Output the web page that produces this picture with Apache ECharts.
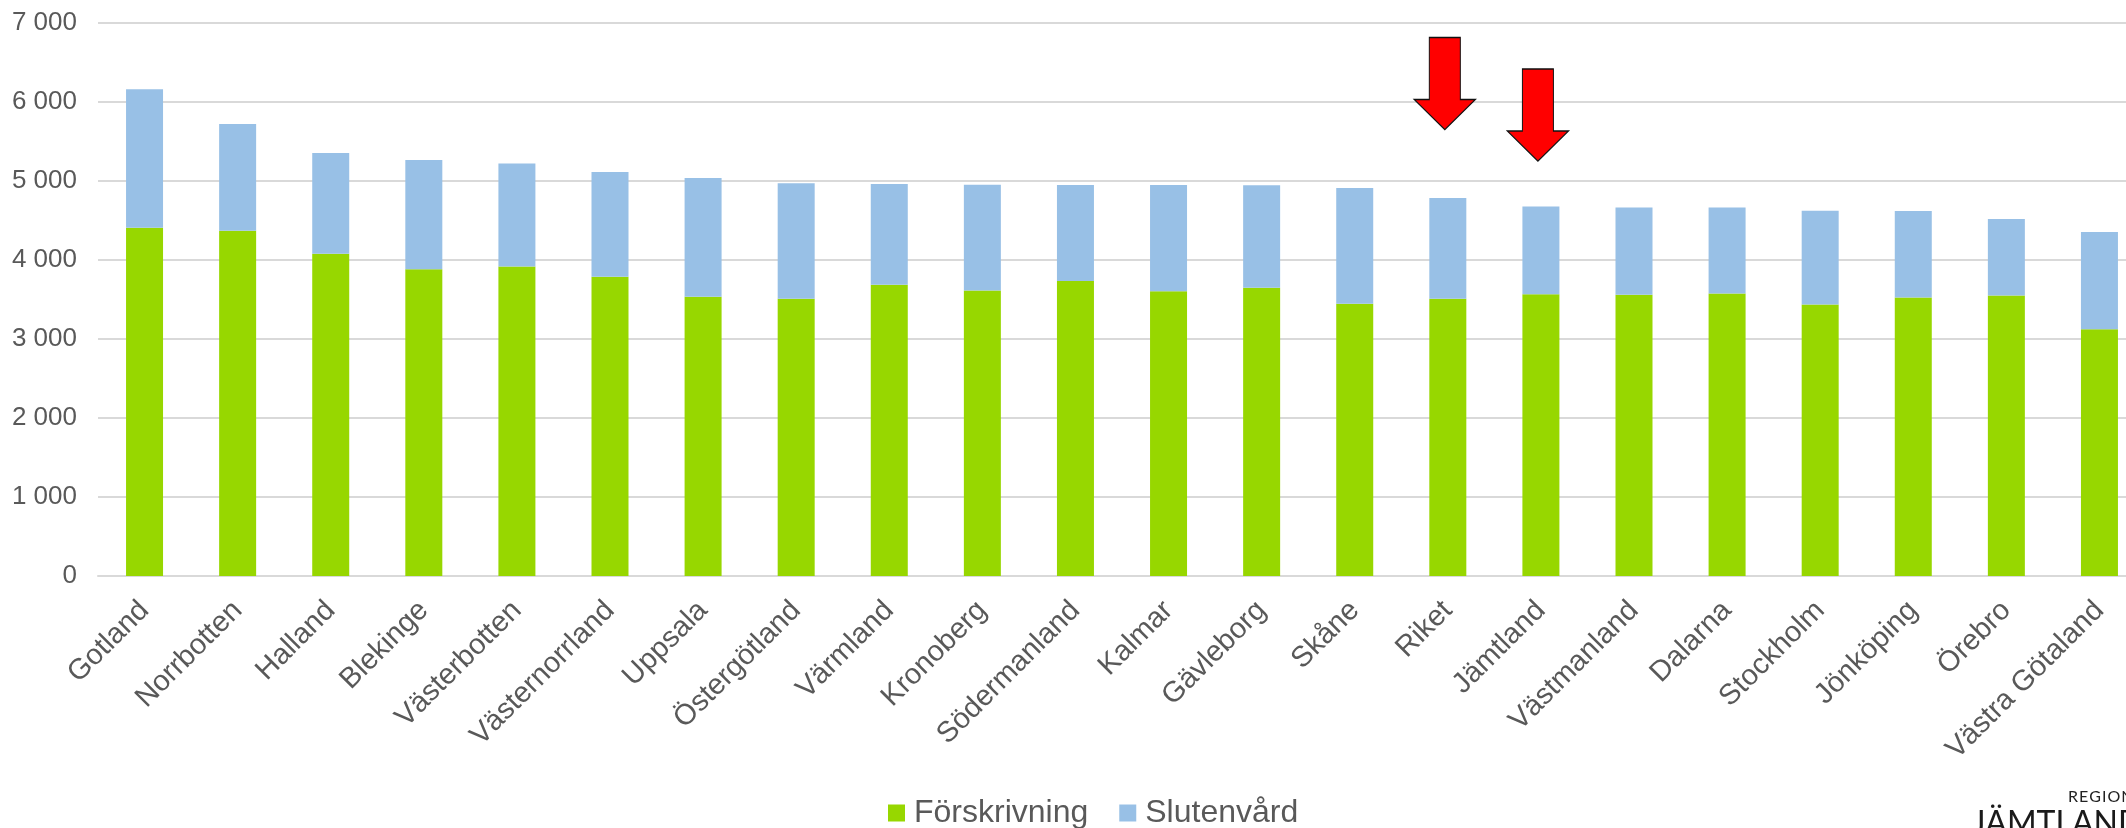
<!DOCTYPE html>
<html>
<head>
<meta charset="utf-8">
<script src="https://cdn.jsdelivr.net/npm/echarts@6/dist/echarts.min.js"></script>
<style>
html,body{margin:0;padding:0;background:#fff;}
#chart{width:2126px;height:828px;}
</style>
</head>
<body>
<div id="chart"></div>
<script>
const categories = ['Gotland','Norrbotten','Halland','Blekinge','Västerbotten','Västernorrland','Uppsala','Östergötland','Värmland','Kronoberg','Södermanland','Kalmar','Gävleborg','Skåne','Riket','Jämtland','Västmanland','Dalarna','Stockholm','Jönköping','Örebro','Västra Götaland'];
const forskrivning = [4409,4371,4080,3884,3918,3787,3535,3509,3686,3613,3733,3604,3648,3446,3509,3568,3560,3577,3438,3526,3552,3122];
const totals = [6161,5722,5354,5265,5223,5114,5038,4971,4962,4954,4949,4949,4945,4912,4785,4676,4663,4663,4625,4621,4520,4356];
const slutenvard = totals.map((t,i) => t - forskrivning[i]);
const yTicks = [0,1000,2000,3000,4000,5000,6000,7000];
const arrowCats = ['Riket','Jämtland'];
const arrowVals = [6234, 5835];

const chart = echarts.init(document.getElementById('chart'));
const arrowPath = 'path://M15,0 L46,0 L46,62 L61,62 L30.5,92 L0,62 L15,62 Z';
chart.setOption({
  animation: false,
  backgroundColor: '#ffffff',
  grid: {left: 98, width: 2048, top: 23, bottom: 252, containLabel: false, outerBoundsMode: 'none'},
  legend: {
    left: 888, top: 797, padding: 0,
    itemWidth: 17, itemHeight: 17, itemGap: 31,
    icon: 'rect',
    textStyle: {fontFamily: 'Liberation Sans, Arial, sans-serif', fontSize: 32, color: '#595959', padding: [8,0,0,4]},
    data: ['Förskrivning','Slutenvård']
  },
  xAxis: {
    type: 'category',
    data: categories,
    axisLine: {lineStyle: {color: '#D9D9D9', width: 2}},
    axisTick: {show: false},
    axisLabel: {interval: 0, rotate: 45, margin: 30, fontSize: 29, color: '#595959', fontFamily: 'Liberation Sans, Arial, sans-serif'}
  },
  yAxis: {
    type: 'value',
    min: yTicks[0], max: yTicks[yTicks.length-1], interval: 1000,
    axisLine: {show: false},
    axisTick: {show: false},
    splitLine: {lineStyle: {color: '#D9D9D9', width: 2}},
    axisLabel: {
      margin: 21, fontSize: 26, color: '#595959', fontFamily: 'Liberation Sans, Arial, sans-serif',
      formatter: v => String(v).replace(/\B(?=(\d{3})+(?!\d))/g, ' ')
    }
  },
  series: [
    {name: 'Förskrivning', type: 'bar', stack: 'a', barWidth: 37, data: forskrivning,
     itemStyle: {color: '#97D700'}},
    {name: 'Slutenvård', type: 'bar', stack: 'a', barWidth: 37, data: slutenvard,
     itemStyle: {color: '#98C0E6'},
     markPoint: {
       symbol: arrowPath, symbolSize: [61, 92], symbolOffset: [-3, 0],
       label: {show: false},
       itemStyle: {color: '#FF0000', borderColor: '#111', borderWidth: 1.2},
       data: arrowCats.map((c,i) => ({coord: [c, arrowVals[i]]}))
     }}
  ],
  graphic: [
    {type: 'text', left: 2068, top: 789, style: {text: 'R\u200AE\u200AG\u200AI\u200AO\u200AN', fontSize: 16, fontFamily: 'Lato, sans-serif', fill: '#222'}},
    {type: 'text', left: 1972, top: 808, style: {text: 'JÄMTLAND HÄRJEDALEN', fontSize: 32, fontFamily: 'Lato, sans-serif', fill: '#1a1a1a'}}
  ]
});
</script>
</body>
</html>
